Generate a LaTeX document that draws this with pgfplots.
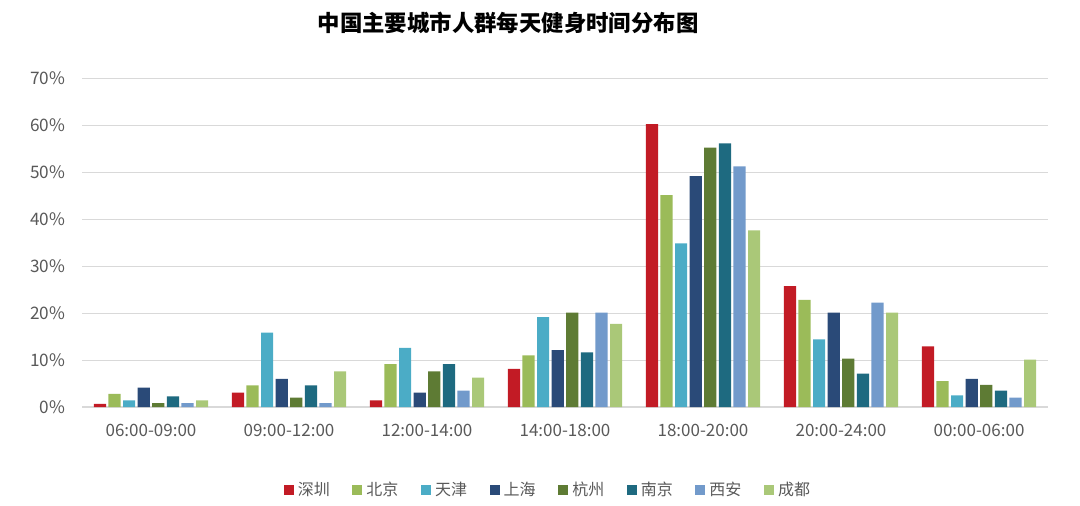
\documentclass[border=0pt]{standalone}
\usepackage{pgfplots}
\pgfplotsset{compat=1.18}
\usepackage{fontspec}
\setmainfont{Noto Sans CJK SC}
\definecolor{cRed}{HTML}{C21B25}
\definecolor{cGreen}{HTML}{9BBB59}
\definecolor{cCyan}{HTML}{4BACC6}
\definecolor{cNavy}{HTML}{2A4A78}
\definecolor{cOlive}{HTML}{5E7B34}
\definecolor{cTeal}{HTML}{1E6A80}
\definecolor{cLBlue}{HTML}{729ACB}
\definecolor{cLGreen}{HTML}{AAC878}
\definecolor{cGrid}{HTML}{D9D9D9}
\definecolor{cText}{HTML}{595959}
\begin{document}
\begin{tikzpicture}
\useasboundingbox (0,0) rectangle (540pt,252.5pt);
\node[font=\fontsize{11.2pt}{13pt}\selectfont\bfseries, text=black] at (254pt,241pt) {中国主要城市人群每天健身时间分布图};
\begin{axis}[
  at={(41pt,49pt)}, anchor=south west,
  x=69pt, y=2.35pt,
  xmin=-0.5, xmax=6.5, ymin=0, ymax=70,
  ybar=1.2pt, bar width=6.1pt,
  axis x line*=bottom,
  axis y line*=left,
  x axis line style={draw=cGrid, line width=0.6pt, -},
  y axis line style={draw=none, -},
  ymajorgrids, grid style={draw=cGrid, line width=0.5pt},
  major tick length=0pt,
  xtick={0,1,2,3,4,5,6},
  xticklabels={06:00-09:00,09:00-12:00,12:00-14:00,14:00-18:00,18:00-20:00,20:00-24:00,00:00-06:00},
  ytick={0,10,20,30,40,50,60,70},
  yticklabels={0\%,10\%,20\%,30\%,40\%,50\%,60\%,70\%},
  xticklabel style={font=\fontsize{8.5pt}{10pt}\selectfont, text=cText, yshift=-5pt},
  yticklabel style={font=\fontsize{8.6pt}{10pt}\selectfont, text=cText, xshift=-5pt},
  clip=false,
  legend columns=8,
  legend style={at={(0.4834,-0.2523)}, anchor=center, draw=none, fill=none,
    font=\fontsize{8pt}{10pt}\selectfont, text=cText,
    /tikz/every even column/.append style={column sep=9.3pt}},
  legend image code/.code={\fill[#1] (0pt,-2.5pt) rectangle (5pt,2.5pt);},
]
\addplot[fill=cRed, draw=none] coordinates {(0,0.65) (1,3.05) (2,1.42) (3,8.1) (4,60.2) (5,25.7) (6,12.9)};
\addplot[fill=cGreen, draw=none] coordinates {(0,2.8) (1,4.6) (2,9.15) (3,11.0) (4,45.1) (5,22.8) (6,5.5)};
\addplot[fill=cCyan, draw=none] coordinates {(0,1.42) (1,15.8) (2,12.6) (3,19.1) (4,34.8) (5,14.4) (6,2.5)};
\addplot[fill=cNavy, draw=none] coordinates {(0,4.1) (1,6.0) (2,3.05) (3,12.1) (4,49.1) (5,20.1) (6,6.0)};
\addplot[fill=cOlive, draw=none] coordinates {(0,0.85) (1,2.0) (2,7.6) (3,20.1) (4,55.2) (5,10.3) (6,4.7)};
\addplot[fill=cTeal, draw=none] coordinates {(0,2.27) (1,4.6) (2,9.15) (3,11.6) (4,56.1) (5,7.1) (6,3.5)};
\addplot[fill=cLBlue, draw=none] coordinates {(0,0.85) (1,0.85) (2,3.5) (3,20.1) (4,51.2) (5,22.2) (6,2.0)};
\addplot[fill=cLGreen, draw=none] coordinates {(0,1.42) (1,7.6) (2,6.25) (3,17.7) (4,37.6) (5,20.1) (6,10.1)};
\legend{深圳,北京,天津,上海,杭州,南京,西安,成都}
\end{axis}
\end{tikzpicture}
\end{document}
